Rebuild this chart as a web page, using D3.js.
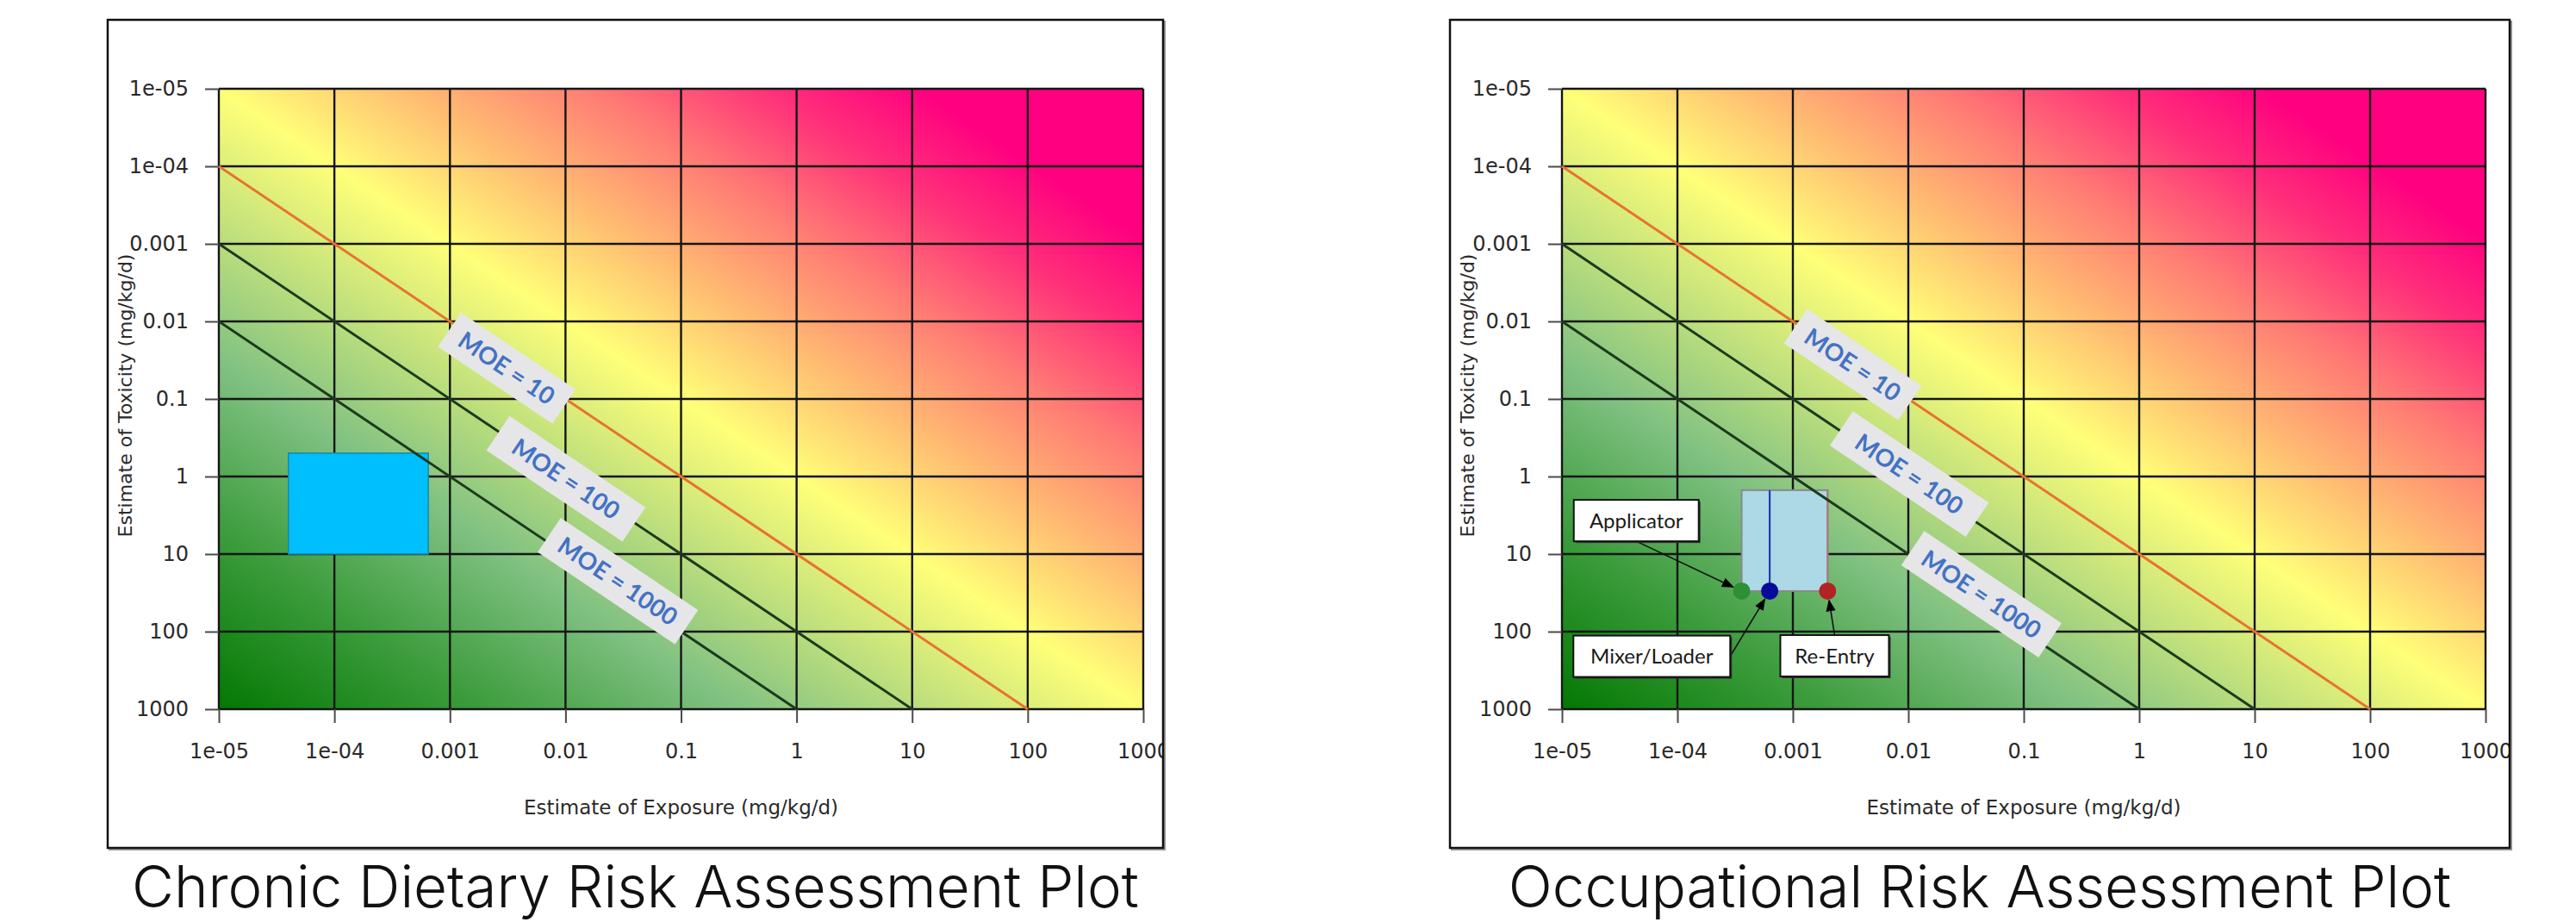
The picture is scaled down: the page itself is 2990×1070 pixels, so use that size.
<!DOCTYPE html>
<html>
<head>
<meta charset="utf-8">
<script src="https://cdn.jsdelivr.net/npm/d3@7"></script>
<style>
body { margin: 0; background: #fff; }
svg { display: block; }
</style>
</head>
<body>
<div id="chart"></div>
<script>
// ticks shared by both axes of both plots
var tickValues = [1e-5, 1e-4, 1e-3, 1e-2, 0.1, 1, 10, 100, 1000];
var tickLabels = ["1e-05", "1e-04", "0.001", "0.01", "0.1", "1", "10", "100", "1000"];

// MOE reference lines, [exposure, toxicity] at each end
var moeNames = ["MOE = 10", "MOE = 100", "MOE = 1000"];
var moeStart = [[1e-5, 1e-4], [1e-5, 1e-3], [1e-5, 1e-2]];
var moeEnd = [[100, 1000], [10, 1000], [1, 1000]];

// centre of each MOE label (exposure, toxicity)
var dietLabelPos = [[0.0031, 0.040], [0.0101, 1.07], [0.0284, 22.3]];
var occLabelPos = [[0.0033, 0.036], [0.0102, 0.93], [0.043, 33]];

// chronic dietary range box
var dietExposure = [4e-5, 6.5e-4];
var dietToxicity = [0.5, 10];

// occupational scenarios
var occNames = ["Applicator", "Mixer/Loader", "Re-Entry"];
var occExposure = [3.6e-4, 6.3e-4, 2.0e-3];
var occToxicity = [30, 30, 30];
var occRangeTox = [1.5, 30];
// callout centres (exposure, toxicity)
var occCalloutX = [4.4e-5, 6.0e-5, 2.3e-3];
var occCalloutY = [3.7, 208, 205];

var titles = ["Chronic Dietary Risk Assessment Plot", "Occupational Risk Assessment Plot"];

var W = 2990, H = 1070;
var svg = d3.select("#chart").append("svg")
  .attr("width", W)
  .attr("height", H);
svg.append("rect").attr("width", W).attr("height", H).attr("fill", "#fff");

var defs = svg.append("defs");

// background colour ramp, bottom-left green -> yellow -> top-right magenta
var grad = defs.append("linearGradient")
  .attr("id", "risk")
  .attr("x1", 0).attr("y1", 1).attr("x2", 1).attr("y2", 0);
[[0, "#037803"], [0.14, "#3a9b3a"], [0.28, "#80c182"], [0.4, "#c6e37c"],
 [0.5, "#ffff78"], [0.6, "#ffbd72"], [0.7, "#ff7c74"], [0.8, "#ff2e7a"],
 [0.88, "#ff0080"], [1, "#ff0080"]].forEach(function(s) {
  grad.append("stop").attr("offset", s[0]).attr("stop-color", s[1]);
});

defs.append("marker")
  .attr("id", "arrow")
  .attr("viewBox", "0 0 10 10")
  .attr("refX", 9).attr("refY", 5)
  .attr("markerWidth", 14).attr("markerHeight", 14)
  .attr("markerUnits", "userSpaceOnUse")
  .attr("orient", "auto")
  .append("path").attr("d", "M0,1L10,5L0,9Z").attr("fill", "#000");

var moeBoxW = [160, 190, 192];
var titleSize = null;

function drawPanel(id, frame, plot, title, labelPos) {
  defs.append("clipPath").attr("id", "clip" + id)
    .append("rect").attr("x", frame.x).attr("y", frame.y).attr("width", frame.w).attr("height", frame.h);

  var g = svg.append("g");
  // frame shadow + white card
  g.append("rect")
    .attr("x", frame.x + 2).attr("y", frame.y + 2).attr("width", frame.w).attr("height", frame.h)
    .attr("fill", "none").attr("stroke", "#9a9a9a").attr("stroke-width", 2);
  g.append("rect")
    .attr("x", frame.x).attr("y", frame.y).attr("width", frame.w).attr("height", frame.h)
    .attr("fill", "#fff");

  var inner = g.append("g").attr("clip-path", "url(#clip" + id + ")");

  var x = d3.scaleLog().domain([1e-5, 1000]).range([plot.l, plot.r]);
  var y = d3.scaleLog().domain([1e-5, 1000]).range([plot.t, plot.b]);

  inner.append("rect")
    .attr("x", plot.l).attr("y", plot.t)
    .attr("width", plot.r - plot.l).attr("height", plot.b - plot.t)
    .attr("fill", "url(#risk)");

  // grid
  inner.append("g").selectAll("line.v").data(tickValues).enter().append("line")
    .attr("x1", function(d) { return x(d); }).attr("x2", function(d) { return x(d); })
    .attr("y1", plot.t).attr("y2", plot.b)
    .attr("stroke", "#161616").attr("stroke-width", 2.4);
  inner.append("g").selectAll("line.h").data(tickValues).enter().append("line")
    .attr("y1", function(d) { return y(d); }).attr("y2", function(d) { return y(d); })
    .attr("x1", plot.l).attr("x2", plot.r)
    .attr("stroke", "#161616").attr("stroke-width", 2.4);

  // axes (ticks outside the plot)
  var yAxis = inner.append("g")
    .attr("transform", "translate(" + plot.l + ",0)")
    .call(d3.axisLeft(y).tickValues(tickValues).tickSize(16).tickPadding(19)
      .tickFormat(function(d, i) { return tickLabels[i]; }));
  var xAxis = inner.append("g")
    .attr("transform", "translate(0," + plot.b + ")")
    .call(d3.axisBottom(x).tickValues(tickValues).tickSize(16).tickPadding(24)
      .tickFormat(function(d, i) { return tickLabels[i]; }));
  [yAxis, xAxis].forEach(function(a) {
    a.select(".domain").remove();
    a.selectAll(".tick line").attr("stroke", "#4a4a4a").attr("stroke-width", 2);
    a.selectAll(".tick text")
      .attr("fill", "#2a2a2a")
      .style("font-family", "'DejaVu Sans', sans-serif")
      .style("font-size", "24px");
  });

  inner.append("text")
    .attr("transform", "translate(" + (frame.x + 20) + "," + ((plot.t + plot.b) / 2 - 4) + ") rotate(-90)")
    .attr("text-anchor", "middle").attr("dy", "0.35em")
    .attr("fill", "#2a2a2a")
    .style("font-family", "'DejaVu Sans', sans-serif").style("font-size", "22px")
    .text("Estimate of Toxicity (mg/kg/d)");
  inner.append("text")
    .attr("x", (plot.l + plot.r) / 2).attr("y", 945)
    .attr("text-anchor", "middle")
    .attr("fill", "#2a2a2a")
    .style("font-family", "'DejaVu Sans', sans-serif").style("font-size", "23px")
    .text("Estimate of Exposure (mg/kg/d)");

  // frame border on top
  g.append("rect")
    .attr("x", frame.x).attr("y", frame.y).attr("width", frame.w).attr("height", frame.h)
    .attr("fill", "none").attr("stroke", "#111").attr("stroke-width", 2.5);

  // panel title, sized so the first one fills the same width as in the picture
  var t = svg.append("text")
    .attr("text-anchor", "middle")
    .attr("fill", "#111")
    .style("font-family", "Inter, 'Open Sans', sans-serif")
    .style("font-weight", 300)
    .style("font-size", "66px")
    .text(title);
  if (titleSize === null) {
    titleSize = 66 * 1169 / t.node().getComputedTextLength();
    if (titleSize > 70) titleSize = 70;
  }
  t.style("font-size", titleSize + "px")
    .attr("x", frame.x + frame.w / 2)
    .attr("y", 1053);

  return { inner: inner, x: x, y: y, plot: plot, labelPos: labelPos };
}

function drawMoe(p) {
  var x = p.x, y = p.y;
  // the reference lines
  moeNames.forEach(function(n, i) {
    p.inner.append("line")
      .attr("x1", x(moeStart[i][0])).attr("y1", y(moeStart[i][1]))
      .attr("x2", x(moeEnd[i][0])).attr("y2", y(moeEnd[i][1]))
      .attr("stroke", i === 0 ? "#e8732e" : "#1c3a1c")
      .attr("stroke-width", 3);
  });
  var ang = Math.atan2(y(1000) - y(1e-5), x(1000) - x(1e-5)) * 180 / Math.PI;
  moeNames.forEach(function(n, i) {
    var c = p.labelPos[i];
    var lg = p.inner.append("g")
      .attr("transform", "translate(" + x(c[0]) + "," + y(c[1]) + ") rotate(" + ang + ")");
    lg.append("rect")
      .attr("x", -moeBoxW[i] / 2).attr("y", -24)
      .attr("width", moeBoxW[i]).attr("height", 48)
      .attr("fill", "#e6e6e8");
    lg.append("text")
      .attr("text-anchor", "middle").attr("dy", "0.36em")
      .attr("fill", "#4472c4")
      .style("font-family", "Lato, 'Open Sans', sans-serif")
      .style("font-weight", 700)
      .style("font-size", "28px")
      .text(n);
  });
}

// ---------- chronic dietary ----------
var diet = drawPanel(0, { x: 125, y: 23, w: 1225, h: 961 },
  { l: 254, t: 103, r: 1327, b: 823 }, titles[0], dietLabelPos);

diet.inner.append("rect")
  .attr("x", diet.x(dietExposure[0])).attr("y", diet.y(dietToxicity[0]))
  .attr("width", diet.x(dietExposure[1]) - diet.x(dietExposure[0]))
  .attr("height", diet.y(dietToxicity[1]) - diet.y(dietToxicity[0]))
  .attr("fill", "#00bfff").attr("stroke", "#1b86a8").attr("stroke-width", 1.5);
drawMoe(diet);

// ---------- occupational ----------
var occ = drawPanel(1, { x: 1683, y: 23, w: 1230, h: 961 },
  { l: 1813, t: 103, r: 2885, b: 823 }, titles[1], occLabelPos);

var ox = occ.x, oy = occ.y;
var bx0 = ox(occExposure[0]), bx1 = ox(occExposure[2]);
var by0 = oy(occRangeTox[0]), by1 = oy(occRangeTox[1]);
occ.inner.append("rect")
  .attr("x", bx0).attr("y", by0).attr("width", bx1 - bx0).attr("height", by1 - by0)
  .attr("fill", "#add8e6").attr("stroke", "#8a8a8a").attr("stroke-width", 2);
occ.inner.append("line")
  .attr("x1", bx1).attr("x2", bx1).attr("y1", by0).attr("y2", by1)
  .attr("stroke", "#b07878").attr("stroke-width", 2);
occ.inner.append("line")
  .attr("x1", ox(occExposure[1])).attr("x2", ox(occExposure[1]))
  .attr("y1", by0).attr("y2", by1)
  .attr("stroke", "#1e3fb4").attr("stroke-width", 2.2);
drawMoe(occ);

var pointColors = ["#2f8f35", "#0a0a9a", "#b22424"];
occ.inner.selectAll("circle.pt").data(occNames).enter().append("circle")
  .attr("cx", function(d, i) { return ox(occExposure[i]); })
  .attr("cy", function(d, i) { return oy(occToxicity[i]); })
  .attr("r", 10)
  .attr("fill", function(d, i) { return pointColors[i]; });

// callouts
var calloutW = [145, 182, 126], calloutH = 48;
var anchorSide = ["bottom", "right", "top"];
occNames.forEach(function(n, i) {
  var cx = ox(occCalloutX[i]), cy = oy(occCalloutY[i]);
  var sx = cx, sy = cy;
  if (anchorSide[i] === "bottom") sy = cy + calloutH / 2;
  if (anchorSide[i] === "top") sy = cy - calloutH / 2;
  if (anchorSide[i] === "right") sx = cx + calloutW[i] / 2;
  var ex = ox(occExposure[i]), ey = oy(occToxicity[i]);
  var dx = ex - sx, dy = ey - sy, d = Math.sqrt(dx * dx + dy * dy);
  var stop = 11;
  occ.inner.append("line")
    .attr("x1", sx).attr("y1", sy)
    .attr("x2", ex - dx / d * stop).attr("y2", ey - dy / d * stop)
    .attr("stroke", "#111").attr("stroke-width", 1.6)
    .attr("marker-end", "url(#arrow)");

  occ.inner.append("rect")
    .attr("x", cx - calloutW[i] / 2 + 2).attr("y", cy - calloutH / 2 + 2)
    .attr("width", calloutW[i]).attr("height", calloutH)
    .attr("fill", "#333");
  occ.inner.append("rect")
    .attr("x", cx - calloutW[i] / 2).attr("y", cy - calloutH / 2)
    .attr("width", calloutW[i]).attr("height", calloutH)
    .attr("fill", "#fff").attr("stroke", "#111").attr("stroke-width", 2);
  occ.inner.append("text")
    .attr("x", cx).attr("y", cy).attr("dy", "0.36em")
    .attr("text-anchor", "middle")
    .attr("fill", "#1a1a1a")
    .style("font-family", "Lato, 'Open Sans', sans-serif")
    .style("font-size", "24px")
    .text(n);
});
</script>
</body>
</html>
